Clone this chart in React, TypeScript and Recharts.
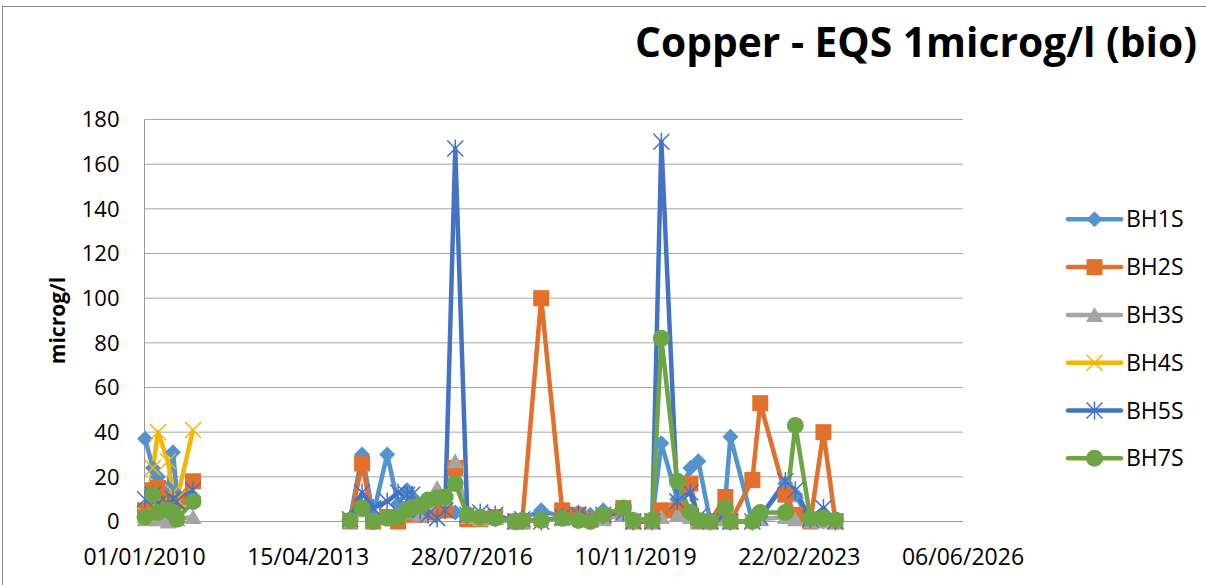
import React from "react";
import { LineChart, Line, XAxis, YAxis, CartesianGrid } from "recharts";

// sampling dates (one blank row in 2012 breaks the lines between the two campaigns)
const dates = [
  "2010-01-05", "2010-03-04", "2010-04-10", "2010-06-22", "2010-07-29", "2010-08-27", "2010-12-23",
  "2012-06-01",
  "2014-02-16", "2014-05-15", "2014-08-04", "2014-11-15",
  "2015-02-03", "2015-04-10", "2015-05-17", "2015-07-15", "2015-09-11", "2015-11-16",
  "2016-01-14", "2016-03-28", "2016-06-24", "2016-09-27",
  "2017-01-15", "2017-06-11", "2017-08-01", "2017-12-18",
  "2018-05-21", "2018-09-16", "2018-12-13",
  "2019-03-18", "2019-08-12", "2019-10-24",
  "2020-03-11", "2020-05-17", "2020-09-11", "2020-12-16",
  "2021-02-12", "2021-05-11", "2021-08-29", "2021-10-05",
  "2022-03-15", "2022-05-12", "2022-11-12",
  "2023-01-24", "2023-05-14", "2023-08-18", "2023-11-14",
];

const N = null;
const bh1s = [37, 24, 20, 15, 31, 12, 11, N,
  1, 30, 3, 30, 8, 14, 11, 6, 4, 3, 5, 4, 2, 1, 1, 0, 1, 5, 2, 4, 3, 5, 4, 1, 1, 35, 10, 24, 27, 0, 10, 38, 0, 2, 17, 12, 0, 0, 0];
const bh2s = [5, 14, 15, 10, 8, 9, 18, N,
  0, 26, 0, 2, 0, 3, 5, 3, 4, 5, 5, 24, 1, 1, 2, 0, 0, 100, 5, 3, 1, 2, 6, 0, 0, 5, 5, 17, 0, 0, 11, 0, 18.6, 53, 12, 3, 0, 40, 0];
const bh3s = [1, 2, 1, 0, 1, 1, 2, N,
  0, 5, 1, 2, 3, 4, 5, 3, 8, 15, 10, 27, 2, 1, 2, 0, 0, 1, 1, 2, 2, 1, 3, 0, 0, 2, 3, 2, 0, 0, 1, 0, 0, 1, 2, 1, 0, 0, 0];
const bh4s = [3, 24, 40, 27, 13, 10, 41, N,
  N, N, N, N, N, N, N, N, N, N, N, N, N, N, N, N, N, N, N, N, N, N, N, N, N, N, N, N, N, N, N, N, N, N, N, N, N, N, N];
const bh5s = [10, 12, 8, 8, 10, 9, 14, N,
  1, 13, 6, 9, 13, 12, 12, 5, 3, 1.5, 5, 167, 3, 4, 3, 0, 1, 0, 2, 3, 1, 3, 4, 0, 0, 170, 9, 13, 2, 0, 3, 0, 0, 2, 18, 14, 1, 6, 0];
const bh7s = [2, 12, 4, 5, 4, 1, 9, N,
  0.5, 6, 0, 1.5, 2, 5, 6, 7, 9.6, 10.5, 11, 17, 3, 2, 1.5, 0, 0.5, 0.5, 1.5, 0.5, 0, 3, 6, 0.5, 0.7, 82, 18, 4, 0.5, 0, 6, 0, 0, 4, 4, 43, 1.5, 1.5, 0.7];

const yTicks = [0, 20, 40, 60, 80, 100, 120, 140, 160, 180];

const DAY = 86400000;
const dayOf = (s: string) => Math.round(Date.parse(s + "T00:00:00Z") / DAY);
const start = dayOf("2010-01-01");
const xTicks = [0, 1, 2, 3, 4, 5].map((k) => start + k * 1200);

const fmtDate = (t: number) => {
  const d = new Date(t * DAY);
  const p = (n: number) => String(n).padStart(2, "0");
  return `${p(d.getUTCDate())}/${p(d.getUTCMonth() + 1)}/${d.getUTCFullYear()}`;
};

type Shape = "diamond" | "square" | "triangle" | "x" | "star" | "circle";
const series: { key: string; values: (number | null)[]; color: string; shape: Shape }[] = [
  { key: "BH1S", values: bh1s, color: "#5593CF", shape: "diamond" },
  { key: "BH2S", values: bh2s, color: "#E2702B", shape: "square" },
  { key: "BH3S", values: bh3s, color: "#A5A5A5", shape: "triangle" },
  { key: "BH4S", values: bh4s, color: "#F2B705", shape: "x" },
  { key: "BH5S", values: bh5s, color: "#4472C4", shape: "star" },
  { key: "BH7S", values: bh7s, color: "#6EA544", shape: "circle" },
];

const rows = dates.map((d, i) => {
  const r: any = { t: dayOf(d) };
  series.forEach((s) => (r[s.key] = s.values[i]));
  return r;
});

function Marker({ shape, cx, cy, color }: { shape: Shape; cx: number; cy: number; color: string }) {
  switch (shape) {
    case "diamond":
      return <polygon points={`${cx},${cy - 8} ${cx + 8},${cy} ${cx},${cy + 8} ${cx - 8},${cy}`} fill={color} />;
    case "square":
      return <rect x={cx - 8} y={cy - 8} width={16} height={16} fill={color} />;
    case "triangle":
      return <polygon points={`${cx},${cy - 8} ${cx + 8.5},${cy + 7} ${cx - 8.5},${cy + 7}`} fill={color} />;
    case "x":
      return (
        <path d={`M${cx - 8},${cy - 8}L${cx + 8},${cy + 8}M${cx + 8},${cy - 8}L${cx - 8},${cy + 8}`}
          stroke={color} strokeWidth={1.5} fill="none" />
      );
    case "star":
      return (
        <path d={`M${cx - 8},${cy - 8}L${cx + 8},${cy + 8}M${cx + 8},${cy - 8}L${cx - 8},${cy + 8}M${cx},${cy - 9}L${cx},${cy + 9}`}
          stroke={color} strokeWidth={1.5} fill="none" />
      );
    default:
      return <circle cx={cx} cy={cy} r={8.5} fill={color} />;
  }
}

function YTitle({ viewBox }: any) {
  const y = viewBox.y + viewBox.height / 2;
  return (
    <text x={57} y={y} transform={`rotate(-90 57 ${y})`} textAnchor="middle" dominantBaseline="central"
      fontSize={21} fontWeight={700} fill="#000">
      microg/l
    </text>
  );
}

export default function App() {
  const W = 1206, H = 585;
  return (
    <div style={{ position: "absolute", left: 0, top: 0, width: W, height: H, background: "#fff", overflow: "hidden", fontFamily: "'Open Sans', sans-serif" }}>
      <div style={{ position: "absolute", left: 2, top: 6, width: 1400, height: 800, border: "1px solid #8a8a8a" }} />
      <svg style={{ position: "absolute", left: 0, top: 0 }} width={W} height={80}>
        <text transform="translate(1197,57) scale(0.97,1)" textAnchor="end" fontSize={42} fontWeight={700} fill="#000">
          Copper - EQS 1microg/l (bio)
        </text>
      </svg>
      <div style={{ position: "absolute", left: 0, top: 0 }}>
        <LineChart width={W} height={H} data={rows} margin={{ top: 119.5, right: 243, bottom: 33.5, left: 0.5 }}>
          <CartesianGrid horizontal vertical={false} stroke="#A6A6A6" strokeWidth={1} />
          <XAxis dataKey="t" type="number" height={30} domain={[xTicks[0], xTicks[5]]} ticks={xTicks} tickFormatter={fmtDate}
            axisLine={{ stroke: "#9a9a9a" }} tickLine={false} tickSize={0} tickMargin={27}
            tick={{ fill: "#000", fontSize: 23 }} interval={0} />
          <YAxis width={144} domain={[0, 180]} ticks={yTicks} axisLine={{ stroke: "#9a9a9a" }} tickLine={false}
            tickSize={0} tickMargin={25} tick={{ fill: "#000", fontSize: 22 }} label={<YTitle />} />
          {series.map((s) => (
            <Line key={s.key} dataKey={s.key} stroke={s.color} strokeWidth={4.5} isAnimationActive={false}
              strokeLinejoin="round"
              dot={(p: any) =>
                p.value == null || p.cy == null ? (
                  <g key={`${s.key}-${p.index}`} />
                ) : (
                  <Marker key={`${s.key}-${p.index}`} shape={s.shape} cx={p.cx} cy={p.cy} color={s.color} />
                )
              }
              activeDot={false} />
          ))}
        </LineChart>
      </div>
      <svg style={{ position: "absolute", left: 1050, top: 190 }} width={156} height={300}>
        {series.map((s, i) => {
          const y = 219.3 + i * 47.8 - 190;
          return (
            <g key={s.key}>
              <line x1={18} x2={71} y1={y} y2={y} stroke={s.color} strokeWidth={4.5} strokeLinecap="round" />
              <Marker shape={s.shape} cx={44.5} cy={y} color={s.color} />
              <text x={76} y={y + 8} fontSize={23} fill="#000">{s.key}</text>
            </g>
          );
        })}
      </svg>
    </div>
  );
}
